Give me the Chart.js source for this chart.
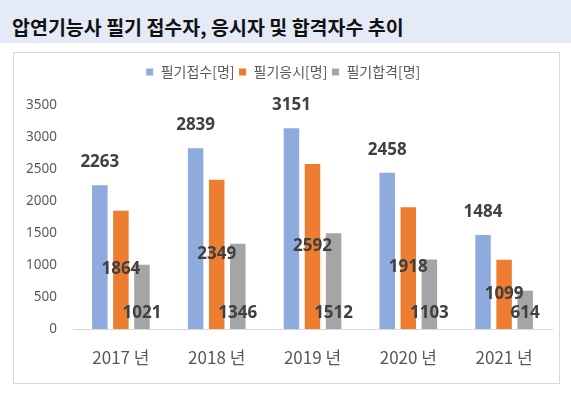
<!DOCTYPE html>
<html>
<head>
<meta charset="utf-8">
<script src="https://cdn.jsdelivr.net/npm/chart.js@4/dist/chart.umd.min.js"></script>
<style>
  html, body { margin:0; padding:0; background:#fff; width:571px; height:398px; overflow:hidden; }
  #title { position:absolute; left:0; top:0; width:571px; height:43px; background:#e4eaf6; }
  #title span { position:absolute; left:12px; top:15px; font-family:"Noto Sans CJK KR","Noto Sans",sans-serif; font-weight:700; font-size:19.5px; color:#111; line-height:24px; white-space:nowrap; }
  #box { position:absolute; left:13px; top:52px; width:545px; height:330px; border:1px solid #d9d9d9; }
  #c { position:absolute; left:0; top:0; }
</style>
</head>
<body>
<div id="title"><span>압연기능사 필기 접수자, 응시자 및 합격자수 추이</span></div>
<div id="box"><canvas id="c" width="545" height="330"></canvas></div>
<script>
const categories = ["2017 년", "2018 년", "2019 년", "2020 년", "2021 년"];
const seriesNames = ["필기접수[명]", "필기응시[명]", "필기합격[명]"];
const applied = [2263, 2839, 3151, 2458, 1484];
const tested = [1864, 2349, 2592, 1918, 1099];
const passed = [1021, 1346, 1512, 1103, 614];
const yTicks = [0, 500, 1000, 1500, 2000, 2500, 3000, 3500];
const colors = ["#8faadc", "#ed7d31", "#a5a5a5"];

const labelPlugin = {
  id: 'valueLabels',
  afterDatasetsDraw(chart) {
    const ctx = chart.ctx;
    ctx.save();
    ctx.font = 'bold 17px "Noto Sans", "DejaVu Sans", sans-serif';
    ctx.fillStyle = '#404040';
    ctx.textAlign = 'center';
    ctx.textBaseline = 'middle';
    chart.data.datasets.forEach((ds, di) => {
      const meta = chart.getDatasetMeta(di);
      meta.data.forEach((el, i) => {
        const v = ds.data[i];
        let y;
        if (di === 0) y = el.y - 22;
        else if (di === 1) y = (el.y + el.base) / 2;
        else y = el.base - 16;
        ctx.fillText(String(v), el.x, y);
      });
    });
    ctx.restore();
  }
};

const legendFit = {
  id: 'legendFit',
  beforeInit(chart) {
    const orig = chart.legend.fit;
    chart.legend.fit = function() {
      orig.bind(chart.legend)();
      this.height = 44;
    };
  }
};

new Chart(document.getElementById('c'), {
  type: 'bar',
  data: {
    labels: categories,
    datasets: [
      { label: seriesNames[0], data: applied, backgroundColor: colors[0], borderColor: '#ffffff', borderWidth: 1 },
      { label: seriesNames[1], data: tested, backgroundColor: colors[1], borderColor: '#ffffff', borderWidth: 1 },
      { label: seriesNames[2], data: passed, backgroundColor: colors[2], borderColor: '#ffffff', borderWidth: 1 }
    ]
  },
  options: {
    responsive: false,
    animation: false,
    devicePixelRatio: 1,
    layout: { padding: { left: 0, right: 7, top: 8, bottom: 0 } },
    datasets: { bar: { categoryPercentage: 0.66, barPercentage: 0.83 } },
    plugins: {
      legend: {
        position: 'top',
        labels: {
          boxWidth: 8, boxHeight: 8, padding: 4,
          color: '#595959',
          font: { family: '"Noto Sans CJK KR", sans-serif', size: 14 }
        }
      },
      tooltip: { enabled: false }
    },
    scales: {
      x: {
        grid: { display: false, drawTicks: false },
        border: { display: true, color: '#d9d9d9', width: 1 },
        ticks: { color: '#595959', padding: 18, font: { family: '"Noto Sans CJK KR", sans-serif', size: 17 } },
        afterFit(s) { s.height = 54; }
      },
      y: {
        min: 0, max: 3500,
        afterBuildTicks(s) { s.ticks = yTicks.map(v => ({ value: v })); },
        grid: { display: false, drawTicks: false },
        border: { display: false },
        ticks: { color: '#595959', padding: 16, callback: v => String(v), font: { family: '"Noto Sans", sans-serif', size: 13.5 } },
        afterFit(s) { s.width = 59; }
      }
    }
  },
  plugins: [labelPlugin, legendFit]
});
</script>
</body>
</html>
